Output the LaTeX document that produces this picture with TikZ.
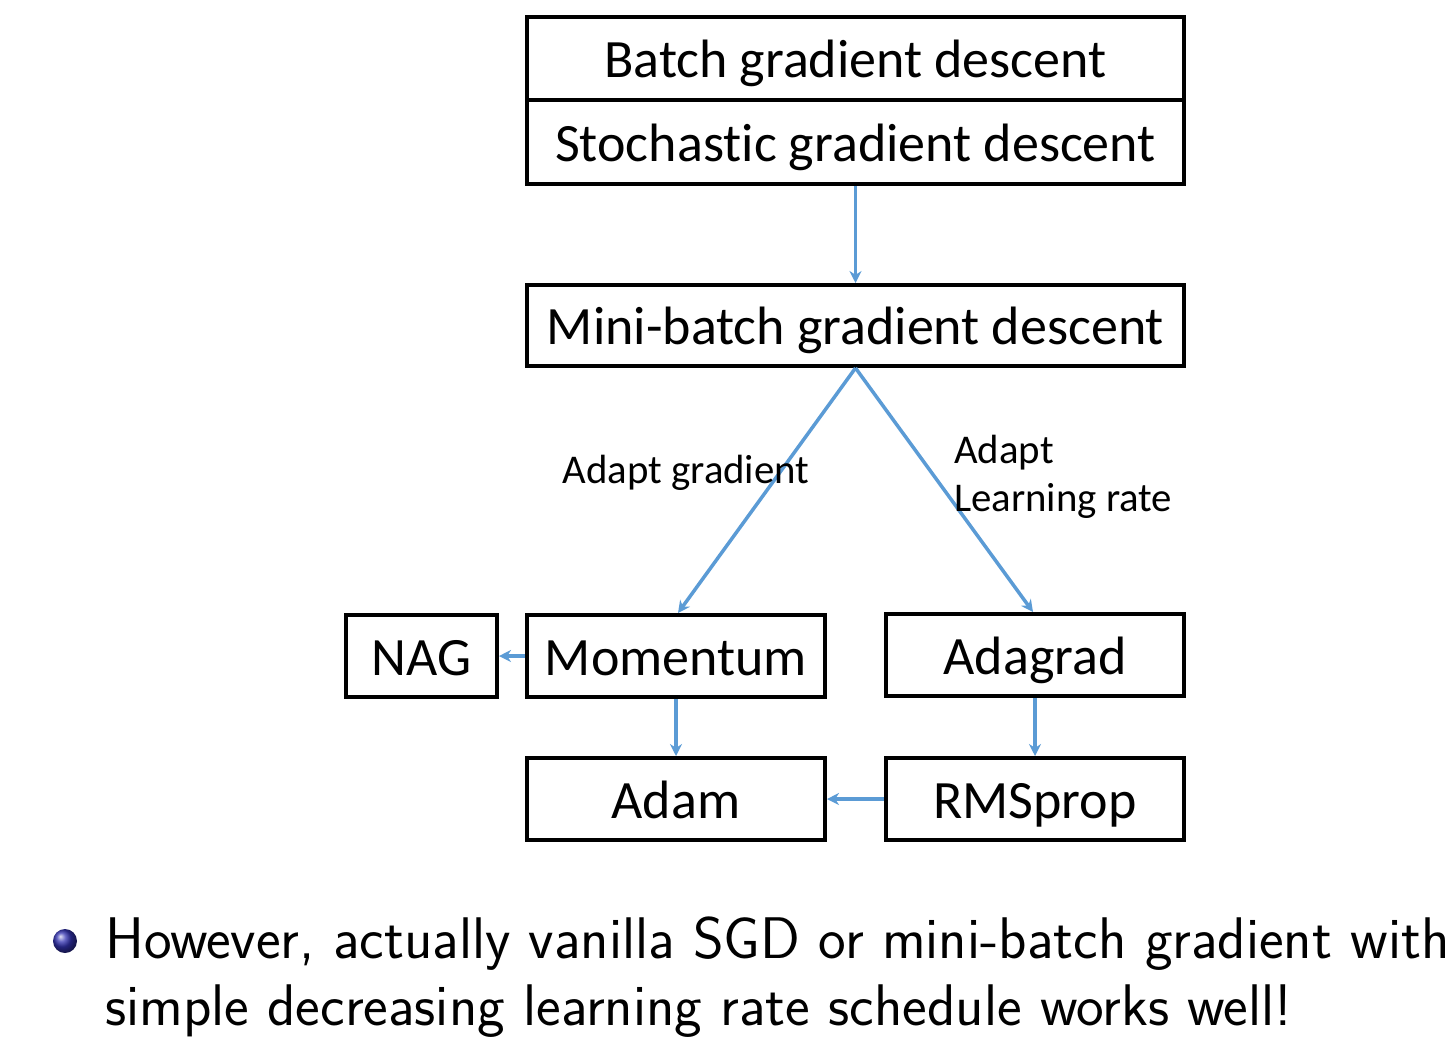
\documentclass[tikz,border=0pt]{standalone}
\usepackage{fontspec}
\setmainfont{Carlito}[Ligatures={NoCommon}]
\newfontfamily\bulletfont{Latin Modern Sans}
\usetikzlibrary{arrows.meta,shadings}
\definecolor{arrowblue}{RGB}{91,155,213}
\definecolor{ballblue}{RGB}{51,51,178}
\begin{document}
\begin{tikzpicture}[x=1pt,y=-1pt,
  box/.style={draw=black,line width=4pt,rectangle,inner sep=0pt,text height=38pt,text depth=0pt,font=\fontsize{54}{60}\selectfont},
  conn/.style={draw=arrowblue,line width=3.5pt,-{Stealth[length=12pt,width=12pt]}},
  lbl/.style={inner sep=0pt,font=\fontsize{40.8}{48}\selectfont}]
\useasboundingbox (0,0) rectangle (1456,1058);
% boxes
\node[box,minimum width=657pt,minimum height=83pt] (batch) at (855.5,58.5) {Batch gradient descent};
\node[box,minimum width=657pt,minimum height=84pt] (sgd) at (855.5,142) {Stochastic gradient descent};
\node[box,minimum width=657pt,minimum height=81pt] (mini) at (855.5,325.5) {Mini-batch gradient descent};
\node[box,minimum width=151pt,minimum height=82pt] (nag) at (421.5,656) {NAG};
\node[box,minimum width=298pt,minimum height=82pt] (mom) at (676,656) {Momentum};
\node[box,minimum width=298pt,minimum height=82pt] (adagrad) at (1035,655) {Adagrad};
\node[box,minimum width=298pt,minimum height=82pt] (adam) at (676,799) {Adam};
\node[box,minimum width=298pt,minimum height=82pt] (rms) at (1035,799) {RMSprop};
% connectors
\draw[conn] (sgd.south) -- (mini.north);
\draw[conn] (mini.south) -- ([xshift=2pt]mom.north);
\draw[conn] (mini.south) -- ([xshift=-2pt]adagrad.north);
\draw[conn] (mom.west) -- (nag.east);
\draw[conn] (mom.south) -- (adam.north);
\draw[conn] (adagrad.south) -- (rms.north);
\draw[conn] (rms.west) -- (adam.east);
% labels
\node[lbl,anchor=base] (lg) at (686,483) {Adapt gradient};
\node[lbl,anchor=base west] (lr1) at (954,463) {Adapt};
\node[lbl,anchor=base west] (lr2) at (954,511) {Learning rate};
% bullet
\shade[ball color=ballblue] (65,941) circle (12pt);
\node[inner sep=0pt,anchor=base west,font=\bulletfont\fontsize{58.7}{67}\selectfont] (b1) at (105,958) {However, actually vanilla SGD or mini-batch gradient with};
\node[inner sep=0pt,anchor=base west,font=\bulletfont\fontsize{58.7}{67}\selectfont] (b2) at (105,1025) {simple decreasing learning rate schedule works well!};
\end{tikzpicture}
\end{document}
